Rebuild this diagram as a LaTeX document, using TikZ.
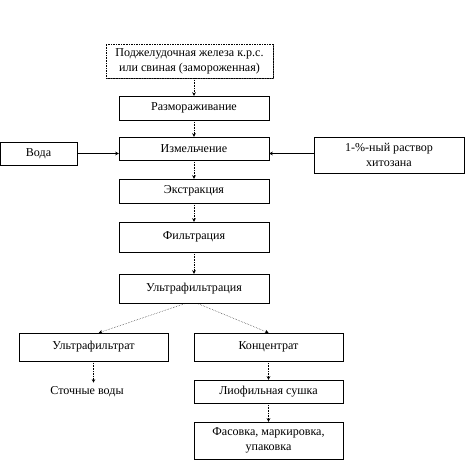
\documentclass[tikz,border=0pt]{standalone}
\usepackage{fontspec}
\setmainfont{Liberation Serif}
\usetikzlibrary{positioning, arrows.meta, shadows}

\begin{document}
\begin{tikzpicture}[
  x=0.03cm, y=-0.03cm,
  stage/.style={draw, fill=white, minimum width=4.5cm, minimum height=0.7cm,
                inner sep=1pt, font=\fontsize{10.3}{12.6}\selectfont, align=center,
                drop shadow={shadow xshift=0.6pt, shadow yshift=-0.6pt,
                             fill=black!70, opacity=1}},
  flow/.style={->, densely dotted},
  feed/.style={->},
  >={Stealth[length=3pt, width=3pt]}
]
  \useasboundingbox (0,0) rectangle (466,460);

  % ── main line ──
  \node[stage, densely dotted, minimum width=5.01cm, minimum height=1.02cm]
    (src) at (189.5,61) {Поджелудочная железа к.р.с.\\или свиная (замороженная)};
  \node[stage, minimum height=0.72cm] (thaw) at (194,108) {Размораживание};
  \node[stage, minimum height=0.69cm] (grind) at (194,148.5) {Измельчение};
  \node[stage, minimum height=0.72cm] (extr) at (194,191) {Экстракция};
  \node[stage, minimum height=0.9cm] (filt) at (194,237) {Фильтрация};
  \node[stage, minimum height=0.87cm] (uf) at (194,288.5) {Ультрафильтрация};

  % ── feeds ──
  \node[stage, minimum width=2.31cm, minimum height=0.69cm]
    (water) at (38.5,153.5) {Вода};
  \node[stage, minimum height=1.08cm]
    (chit) at (389,155) {1-\%-ный раствор\\хитозана};

  % ── branches ──
  \node[stage, minimum width=4.47cm, minimum height=0.84cm]
    (ufil) at (93.5,347) {Ультрафильтрат};
  \node[stage, minimum width=4.47cm, minimum height=0.84cm]
    (conc) at (268.5,347) {Концентрат};
  \node[font=\fontsize{10.3}{12.6}\selectfont] (waste) at (87,392) {Сточные воды};
  \node[stage, minimum width=4.47cm, minimum height=0.69cm]
    (lyo) at (268.5,391.5) {Лиофильная сушка};
  \node[stage, minimum width=4.47cm, minimum height=1.11cm]
    (pack) at (268.5,440.5) {Фасовка, маркировка,\\упаковка};

  % ── arrows ──
  \draw[flow] (thaw.north |- src.south) -- (thaw.north);
  \draw[flow] (thaw) -- (grind);
  \draw[flow] (grind) -- (extr);
  \draw[flow] (extr) -- (filt);
  \draw[flow] (filt) -- (uf);
  \draw[flow] ([xshift=-0.24cm]uf.south) -- ([xshift=0.16cm]ufil.north);
  \draw[flow] ([xshift=0.09cm]uf.south) -- (conc.north);
  \draw[flow] (ufil.south) -- (ufil.south |- waste.north);
  \draw[flow] (conc) -- (lyo);
  \draw[flow] (lyo) -- (pack);
  \draw[feed] (water.east) -- (grind.west |- water.east);
  \draw[feed] (chit.west |- water.east) -- (grind.east |- water.east);
\end{tikzpicture}
\end{document}
